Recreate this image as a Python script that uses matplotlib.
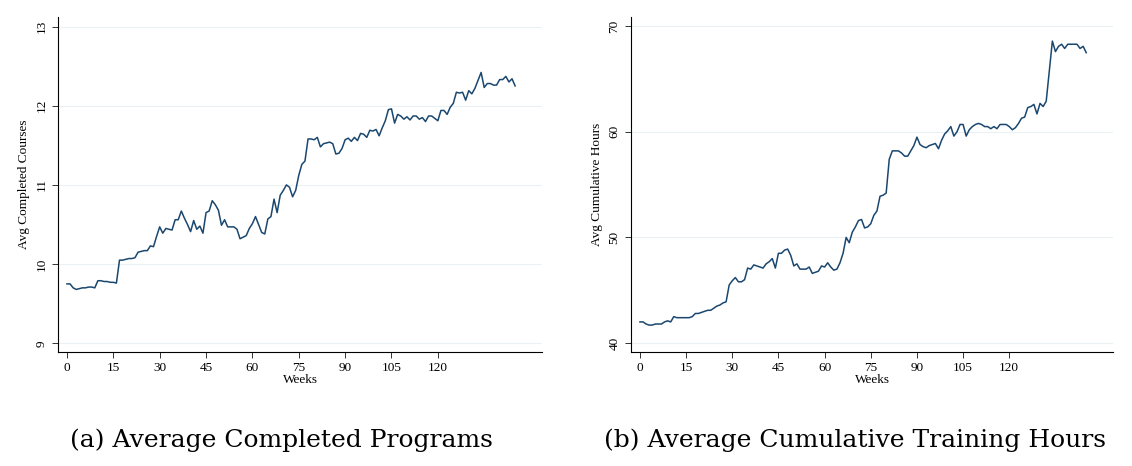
import numpy as np
import matplotlib.pyplot as plt

weeks = np.arange(146)
courses = [9.75, 9.75, 9.70, 9.68, 9.69, 9.70, 9.70, 9.71, 9.71, 9.70,
           9.79, 9.79, 9.78, 9.78, 9.77, 9.77, 9.76, 10.05, 10.05, 10.06,
           10.07, 10.07, 10.08, 10.15, 10.16, 10.17, 10.17, 10.23, 10.22, 10.35,
           10.47, 10.39, 10.45, 10.44, 10.43, 10.56, 10.56, 10.67, 10.58, 10.50,
           10.41, 10.55, 10.44, 10.48, 10.39, 10.65, 10.67, 10.80, 10.75, 10.68,
           10.49, 10.56, 10.47, 10.47, 10.47, 10.44, 10.32, 10.34, 10.36, 10.45,
           10.51, 10.60, 10.50, 10.40, 10.38, 10.57, 10.60, 10.82, 10.65, 10.87,
           10.93, 11.00, 10.97, 10.85, 10.93, 11.12, 11.26, 11.30, 11.58, 11.58,
           11.57, 11.60, 11.48, 11.52, 11.53, 11.54, 11.52, 11.39, 11.40, 11.46,
           11.57, 11.59, 11.55, 11.60, 11.56, 11.65, 11.64, 11.60, 11.69, 11.68,
           11.70, 11.62, 11.72, 11.81, 11.95, 11.96, 11.78, 11.89, 11.87, 11.83,
           11.86, 11.82, 11.87, 11.87, 11.83, 11.85, 11.80, 11.87, 11.87, 11.84,
           11.81, 11.94, 11.94, 11.89, 11.98, 12.03, 12.17, 12.16, 12.17, 12.07,
           12.19, 12.15, 12.22, 12.32, 12.42, 12.23, 12.28, 12.28, 12.26, 12.26,
           12.33, 12.33, 12.37, 12.30, 12.34, 12.25]
hours = [42.0, 42.0, 41.8, 41.7, 41.7, 41.8, 41.8, 41.8, 42.0, 42.1,
         42.0, 42.5, 42.4, 42.4, 42.4, 42.4, 42.4, 42.5, 42.8, 42.8,
         42.9, 43.0, 43.1, 43.1, 43.3, 43.5, 43.6, 43.8, 43.9, 45.5,
         45.9, 46.2, 45.8, 45.8, 46.0, 47.1, 47.0, 47.4, 47.3, 47.2,
         47.1, 47.5, 47.7, 48.0, 47.1, 48.5, 48.5, 48.8, 48.9, 48.3,
         47.3, 47.5, 47.0, 47.0, 47.0, 47.2, 46.6, 46.7, 46.8, 47.3,
         47.2, 47.6, 47.2, 46.9, 47.0, 47.6, 48.5, 50.0, 49.5, 50.5,
         51.0, 51.6, 51.7, 50.9, 51.0, 51.3, 52.1, 52.5, 53.9, 54.0,
         54.2, 57.4, 58.2, 58.2, 58.2, 58.0, 57.7, 57.7, 58.2, 58.7,
         59.5, 58.8, 58.6, 58.5, 58.7, 58.8, 58.9, 58.4, 59.2, 59.8,
         60.1, 60.5, 59.6, 60.0, 60.7, 60.7, 59.6, 60.2, 60.5, 60.7,
         60.8, 60.7, 60.5, 60.5, 60.3, 60.5, 60.3, 60.7, 60.7, 60.7,
         60.5, 60.2, 60.4, 60.8, 61.3, 61.4, 62.3, 62.4, 62.6, 61.7,
         62.7, 62.4, 62.9, 65.8, 68.6, 67.6, 68.1, 68.3, 67.9, 68.3,
         68.3, 68.3, 68.3, 67.9, 68.1, 67.5]
xticks = [0, 15, 30, 45, 60, 75, 90, 105, 120]

plt.rcParams['font.family'] = ['Liberation Serif', 'DejaVu Serif']
fig = plt.figure(figsize=(11.32, 4.66), dpi=100)
W, H = 1132, 466

def panel(left, right, y, ylabel, yticks, ylim, caption, cap_x):
    ax = fig.add_axes([left / W, 1 - 352 / H, (right - left) / W, (352 - 17) / H])
    ax.plot(weeks, y, color="#1a476f", lw=1.1)
    ax.set_xlim(-2.9, 153.7)
    ax.set_ylim(*ylim)
    ax.set_xticks(xticks)
    ax.set_yticks(yticks)
    ax.set_yticklabels([str(t) for t in yticks], rotation=90, va="center")
    ax.tick_params(labelsize=9.5, length=4, width=0.7, color="#333333")
    ax.grid(True, axis="y", color="#eaf0f3", lw=0.8)
    ax.spines["top"].set_visible(False)
    ax.spines["right"].set_visible(False)
    ax.set_xlabel("Weeks", fontsize=9.5, labelpad=0)
    ax.set_ylabel(ylabel, fontsize=9.5)
    fig.text(cap_x / W, 1 - 440 / H, caption, ha="center", va="center",
             fontsize=18, family="DejaVu Serif")
    return ax

panel(58, 542, courses, "Avg Completed Courses", [9, 10, 11, 12, 13], (8.89, 13.12),
      "(a) Average Completed Programs", 281)
panel(631, 1113, hours, "Avg Cumulative Hours", [40, 50, 60, 70], (39.15, 70.88),
      "(b) Average Cumulative Training Hours", 855)

plt.savefig("out.png", dpi=100)
